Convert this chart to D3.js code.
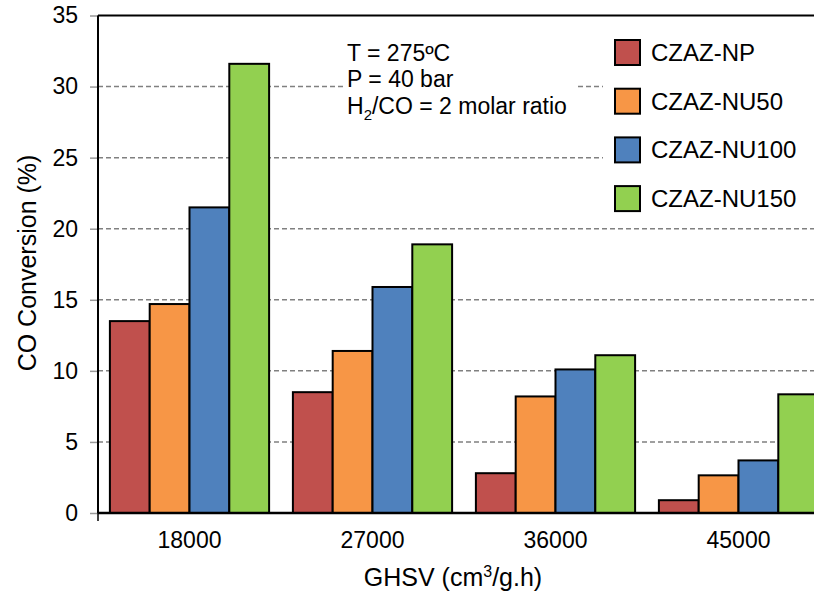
<!DOCTYPE html>
<html>
<head>
<meta charset="utf-8">
<script src="https://cdn.jsdelivr.net/npm/d3@7"></script>
<style>
  body { margin: 0; background: #fff; }
  svg text { font-family: "Liberation Sans", Arial, sans-serif; fill: #000; }
</style>
</head>
<body>
<div id="chart"></div>
<script>
// chart values
const categories = ["18000", "27000", "36000", "45000"];
const seriesNames = ["CZAZ-NP", "CZAZ-NU50", "CZAZ-NU100", "CZAZ-NU150"];
const seriesColors = ["#C0504D", "#F79646", "#4F81BD", "#92D050"];
const czazNP    = [13.5, 8.5, 2.8, 0.9];
const czazNU50  = [14.7, 11.4, 8.2, 2.65];
const czazNU100 = [21.5, 15.9, 10.1, 3.7];
const czazNU150 = [31.6, 18.9, 11.1, 8.35];
const yTicks = [0, 5, 10, 15, 20, 25, 30, 35];

const seriesValues = [czazNP, czazNU50, czazNU100, czazNU150];

const W = 814, H = 594;
// plot runs past the right edge of the picture (cropped like the original)
const margin = {top: 15.5, left: 98, bottom: 81};
const plotRight = 830;
const plotBottom = H - margin.bottom;

const svg = d3.select("#chart").append("svg")
    .attr("width", W)
    .attr("height", H);

const x0 = d3.scaleBand()
    .domain(categories)
    .range([margin.left, plotRight])
    .paddingInner(0.13)
    .paddingOuter(0.065);

const x1 = d3.scaleBand()
    .domain(seriesNames)
    .range([0, x0.bandwidth()]);

const y = d3.scaleLinear()
    .domain([0, 35])
    .range([plotBottom, margin.top]);

// dashed gridlines
svg.append("g")
    .selectAll("line")
    .data(yTicks.filter(t => t > 0 && t < 35))
    .join("line")
    .attr("x1", margin.left)
    .attr("x2", plotRight)
    .attr("y1", d => y(d))
    .attr("y2", d => y(d))
    .attr("stroke", "#808080")
    .attr("stroke-width", 1.5)
    .attr("stroke-dasharray", "5,3");

// white boxes behind the note and the legend (they hide the gridlines)
svg.append("rect")
    .attr("x", 344).attr("y", 36)
    .attr("width", 234).attr("height", 86)
    .attr("fill", "#fff");
svg.append("rect")
    .attr("x", 603).attr("y", 28)
    .attr("width", 220).attr("height", 192)
    .attr("fill", "#fff");

// bars
const groups = svg.append("g")
    .selectAll("g")
    .data(categories)
    .join("g")
    .attr("transform", d => "translate(" + x0(d) + ",0)");

groups.selectAll("rect")
    .data((c, i) => seriesNames.map((s, j) => ({series: s, value: seriesValues[j][i], color: seriesColors[j]})))
    .join("rect")
    .attr("x", d => x1(d.series))
    .attr("y", d => y(d.value))
    .attr("width", x1.bandwidth())
    .attr("height", d => plotBottom - y(d.value))
    .attr("fill", d => d.color)
    .attr("stroke", "#000")
    .attr("stroke-width", 2);

// y axis
const yAxis = svg.append("g")
    .attr("transform", "translate(" + margin.left + ",0)")
    .call(d3.axisLeft(y).tickValues(yTicks).tickSize(8).tickPadding(12));
yAxis.select(".domain").remove();
yAxis.selectAll(".tick line").attr("stroke", "#999").attr("stroke-width", 1.5);
yAxis.selectAll(".tick text")
    .style("font-size", "23px")
    .attr("fill", "#000");

svg.append("line")
    .attr("x1", margin.left).attr("x2", margin.left)
    .attr("y1", margin.top).attr("y2", plotBottom)
    .attr("stroke", "#000").attr("stroke-width", 2);

// top border
svg.append("line")
    .attr("x1", margin.left).attr("x2", plotRight)
    .attr("y1", margin.top).attr("y2", margin.top)
    .attr("stroke", "#000").attr("stroke-width", 2);

// x axis
const xAxis = svg.append("g")
    .attr("transform", "translate(0," + plotBottom + ")")
    .call(d3.axisBottom(x0).tickSize(0).tickPadding(19));
xAxis.select(".domain").remove();
xAxis.selectAll(".tick text")
    .style("font-size", "23px")
    .attr("fill", "#000");

svg.append("line")
    .attr("x1", margin.left).attr("x2", plotRight)
    .attr("y1", plotBottom).attr("y2", plotBottom)
    .attr("stroke", "#000").attr("stroke-width", 2.5);
svg.append("line")
    .attr("x1", margin.left).attr("x2", margin.left)
    .attr("y1", plotBottom).attr("y2", plotBottom + 8)
    .attr("stroke", "#000").attr("stroke-width", 1.5);

// axis titles
svg.append("text")
    .attr("transform", "translate(36,263) rotate(-90)")
    .attr("text-anchor", "middle")
    .style("font-size", "25px")
    .text("CO Conversion (%)");

const xTitle = svg.append("text")
    .attr("x", 453).attr("y", 586)
    .attr("text-anchor", "middle")
    .style("font-size", "25px");
xTitle.append("tspan").text("GHSV (cm");
xTitle.append("tspan").attr("dy", -9).style("font-size", "16px").text("3");
xTitle.append("tspan").attr("dy", 9).text("/g.h)");

// conditions note
const note = svg.append("g").style("font-size", "23px");
note.append("text").attr("x", 347).attr("y", 61).text("T = 275ºC");
note.append("text").attr("x", 347).attr("y", 87).text("P = 40 bar");
const h2 = note.append("text").attr("x", 347).attr("y", 114);
h2.append("tspan").text("H");
h2.append("tspan").attr("dy", 6).style("font-size", "15px").text("2");
h2.append("tspan").attr("dy", -6).text("/CO = 2 molar ratio");

// legend
const legend = svg.append("g")
    .selectAll("g")
    .data(seriesNames)
    .join("g")
    .attr("transform", (d, i) => "translate(615," + (40 + i * 48.7) + ")");
legend.append("rect")
    .attr("width", 25).attr("height", 25)
    .attr("fill", (d, i) => seriesColors[i])
    .attr("stroke", "#000").attr("stroke-width", 2);
legend.append("text")
    .attr("x", 36).attr("y", 21)
    .style("font-size", "24px")
    .text(d => d);
</script>
</body>
</html>
